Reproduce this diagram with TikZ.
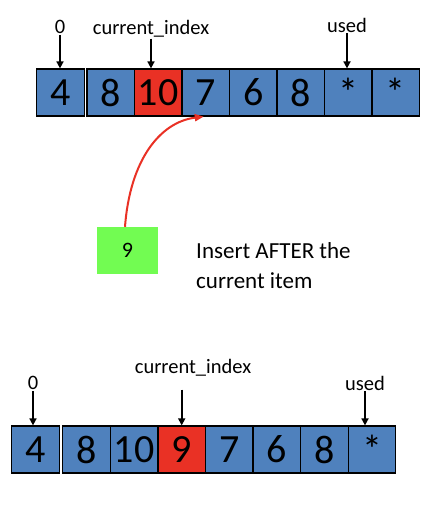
\documentclass[tikz,border=0pt]{standalone}
\usepackage{fontspec}
\setmainfont{Carlito}
\usetikzlibrary{arrows.meta, positioning}

\definecolor{cellblue}{RGB}{79,129,189}
\definecolor{curred}{RGB}{233,49,37}
\definecolor{newgreen}{RGB}{114,252,82}

\begin{document}
\begin{tikzpicture}[x=1pt, y=-1pt,
  cell/.style={draw=black, line width=1.2pt, fill=cellblue, minimum width=47.5pt,
    minimum height=47pt, inner sep=0pt, font=\fontsize{40}{40}\selectfont},
  lbl/.style={font=\fontsize{20.5}{20}\selectfont, inner sep=1pt},
  ptr/.style={-{Triangle[length=7pt, width=7pt]}, line width=1.6pt}]

\path[use as bounding box] (0,0) rectangle (438,510);

% --- Array before the insert ---
\node[cell] (t0) at (60.5,92.5) {4};
\foreach \i/\v/\c in {0/8/cellblue, 1/10/curred, 2/7/cellblue, 3/6/cellblue,
                      4/8/cellblue, 5/*/cellblue, 6/*/cellblue} {
  \node[cell, fill=\c] (t\the\numexpr\i+1\relax) at (110.75+47.5*\i,92.5) {\v};
}

% pointers above
\node[lbl] (tzero) at (60,27) {0};
\draw[ptr] (tzero) -- (tzero |- t0.north);
\node[lbl] (tci) at (151,29) {current\_index};
\draw[ptr] (tci) -- (tci |- t2.north);
\node[lbl] (tused) at (347,25) {used};
\draw[ptr] (tused) -- (tused |- t6.north);

% --- New item ---
\node[fill=newgreen, minimum width=61pt, minimum height=47pt, inner sep=0pt,
  font=\fontsize{22}{22}\selectfont] (new) at (127.5,250.5) {9};
\draw[-{Triangle[length=9pt, width=7pt]}, curred, line width=2pt]
  ([xshift=-2.5pt]new.north) .. controls (130,160) and (160,122) .. ([xshift=-2pt]t3.south);
\node[anchor=west, align=left, inner sep=0pt, font=\fontsize{23}{30}\selectfont]
  (note) at (196,266) {Insert AFTER the\\current item};

% --- Array after the insert ---
\node[cell] (b0) at (35.5,449.5) {4};
\foreach \i/\v/\c in {0/8/cellblue, 1/10/cellblue, 2/9/curred, 3/7/cellblue,
                      4/6/cellblue, 5/8/cellblue, 6/*/cellblue} {
  \node[cell, fill=\c] (b\the\numexpr\i+1\relax) at (86.5+47.6*\i,449.5) {\v};
}

% pointers above
\node[lbl] (bzero) at (33,383) {0};
\draw[ptr] (bzero) -- (bzero |- b0.north);
\node[lbl] (bci) at (193,368) {current\_index};
\draw[ptr, shorten <=12pt] (bci.south -| b3) -- (b3.north);
\node[lbl] (bused) at (365,383) {used};
\draw[ptr] (bused) -- (bused |- b7.north);

\end{tikzpicture}
\end{document}
